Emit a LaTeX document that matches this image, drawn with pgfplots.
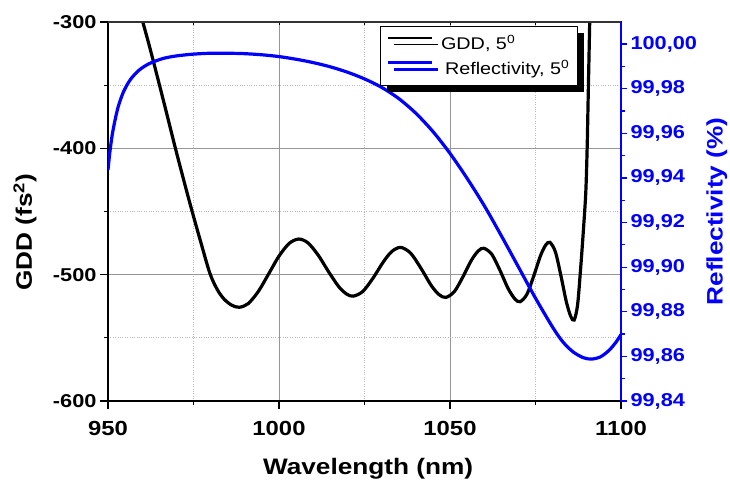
\documentclass[border=0pt]{standalone}
\usepackage{pgfplots}
\pgfplotsset{compat=1.18}
\usepackage{fontspec}
\setmainfont{Liberation Sans}[FakeStretch=1.17]
\usetikzlibrary{shadows}
\definecolor{gridmaj}{RGB}{150,150,150}
\definecolor{gridmin}{RGB}{185,185,185}
\newcommand{\yticklabfont}{\fontsize{18.6bp}{21bp}\selectfont\bfseries}
\newcommand{\xticklabfont}{\fontsize{20.4bp}{23bp}\selectfont\bfseries}
\newcommand{\axlabfont}{\fontsize{22.4bp}{26bp}\selectfont\bfseries}
\begin{document}
\begin{tikzpicture}
\useasboundingbox (0,0) rectangle (730bp,-481bp);
% main axis: GDD
\begin{axis}[
  at={(108bp,-401bp)}, anchor=south west,
  scale only axis, width=513bp, height=379bp,
  xmin=950, xmax=1100, ymin=-600, ymax=-300,
  xtick={950,1000,1050,1100}, minor xtick={975,1025,1075},
  ytick={-600,-500,-400,-300}, minor ytick={-550,-450,-350},
  xtick pos=bottom, ytick pos=left,
  tick align=outside,
  major tick length=8bp, minor tick length=4bp,
  every tick/.style={black, line width=1.2bp},
  grid=both,
  major grid style={gridmaj, line width=0.8bp},
  minor grid style={gridmin, dotted, line width=0.8bp},
  axis line style={line width=1.4bp, black},
  /pgf/number format/assume math mode=true,
  /pgf/number format/1000 sep={},
  yticklabel style={font=\yticklabfont},
  xticklabel style={font=\xticklabfont, yshift=-9bp},
  xlabel={Wavelength (nm)}, ylabel={GDD (fs\textsuperscript{2})},
  every axis label/.append style={font=\axlabfont},
  xlabel style={at={(axis description cs:0.507,-0.178)}, anchor=center},
  ylabel style={at={(axis description cs:-0.1618,0.445)}, anchor=center},
]
\addplot[black, line width=3.2bp, smooth, tension=0.5] coordinates {
(958,-279) (962,-318) (966,-360) (970,-403) (974,-444) (977,-473) (979.8,-499)
(982,-512) (984,-519.5) (986.2,-524.2) (988.4,-525.8)
(991,-522.9) (994,-513.1) (997,-499.3) (1000,-485.3) (1003,-475.2) (1005.8,-471.8)
(1008.5,-474.9) (1011.5,-484.7) (1014.5,-497.7) (1017.5,-509.6) (1019.8,-515.4) (1021.7,-517)
(1024.5,-513.3) (1027.5,-502.7) (1030.5,-489.9) (1033,-481.6) (1035.6,-478.4)
(1038.5,-483.0) (1041.5,-494.9) (1044.5,-508.5) (1046.8,-515.8) (1048.8,-518)
(1051.3,-513.3) (1053.8,-501.6) (1056.3,-488.4) (1058.3,-481.1) (1059.9,-479.1)
(1062.2,-483.8) (1064.6,-496.5) (1067,-511.0) (1069,-519.3) (1070.5,-521.4)
(1072.5,-515.5) (1074.5,-500.9) (1076.5,-484.7) (1078,-476.5) (1079.2,-474.4)
(1080.8,-481.8) (1082.4,-500.4) (1084,-521.3) (1085.3,-533.0) (1086.3,-535.9)
(1087.3,-524) (1088.2,-495) (1089.0,-465) (1089.7,-435) (1090.1,-400)
(1090.4,-360) (1090.7,-320) (1091.0,-280)
};
\end{axis}
% top inward ticks
\begin{axis}[
  at={(108bp,-401bp)}, anchor=south west,
  scale only axis, width=513bp, height=379bp,
  xmin=950, xmax=1100, ymin=0, ymax=1,
  axis x line*=top, axis y line=none,
  xtick={975,1000,1025,1050,1075}, xticklabels={},
  tick align=inside, major tick length=3.5bp,
  every tick/.style={black, line width=1bp},
  axis line style={line width=1.4bp, black!80},
]
\end{axis}
% right axis: Reflectivity
\begin{axis}[
  at={(108bp,-401bp)}, anchor=south west,
  scale only axis, width=513bp, height=379bp,
  xmin=950, xmax=1100, ymin=99.84, ymax=100.0099,
  axis x line=none, axis y line*=right,
  ytick={99.84,99.86,99.88,99.90,99.92,99.94,99.96,99.98,100.00},
  minor ytick={99.85,99.87,99.89,99.91,99.93,99.95,99.97,99.99,100.01},
  tick align=outside,
  major tick length=6bp, minor tick length=3.5bp,
  every tick/.style={blue, line width=1.2bp},
  axis line style={line width=1.5bp, blue},
  /pgf/number format/assume math mode=true,
  yticklabel style={font=\yticklabfont, text=blue, /pgf/number format/.cd, fixed, fixed zerofill, precision=2, use comma},
  ylabel={Reflectivity (\%)},
  every axis label/.append style={font=\axlabfont},
  ylabel style={text=blue, at={(axis description cs:1.187,0.5)}, anchor=center},
  legend style={at={(0.530,0.9894)}, anchor=north west, draw=black, line width=0.8bp,
    fill=white, font=\fontsize{16.9bp}{19bp}\selectfont,
    drop shadow={shadow xshift=6.5bp, shadow yshift=-6.5bp, fill=black, opacity=1},
    inner xsep=6bp, inner ysep=7bp, row sep=5bp},
  legend cell align=left,
  legend image code/.code={\draw[#1, line width=2.8bp] (0bp,5.5bp) -- (44bp,5.5bp);},
]
\addlegendimage{black}
\addlegendentry{\hspace*{6bp}GDD, 5\textsuperscript{0}}
\addplot[blue, line width=3.2bp, smooth, tension=0.5] coordinates {
(950.0,99.9436) (950.5,99.9510) (951.2,99.9590) (952.0,99.9655) (953.0,99.9720)
(954.5,99.9785) (956.5,99.9840) (959,99.9882) (962,99.9912) (966,99.9935)
(970,99.9947) (975,99.9955) (980,99.9959) (985,99.9959) (990,99.9957)
(995,99.9952) (1000,99.9944) (1005,99.9932) (1010,99.9917) (1015,99.9898)
(1020,99.9874) (1025,99.9844) (1030,99.9806) (1035,99.9756) (1040,99.9690)
(1045,99.9608) (1050,99.9510) (1055,99.9398) (1060,99.9276) (1065,99.9141)
(1070,99.9001) (1075,99.8861) (1080,99.8731) (1083,99.8665) (1086,99.8620)
(1089,99.8594) (1091.4,99.8588) (1094,99.8598) (1096.5,99.8627) (1098.5,99.8663)
(1100,99.8698)
};
\addlegendentry{\hspace*{10bp}Reflectivity, 5\textsuperscript{0}}
\end{axis}
\end{tikzpicture}
\end{document}
